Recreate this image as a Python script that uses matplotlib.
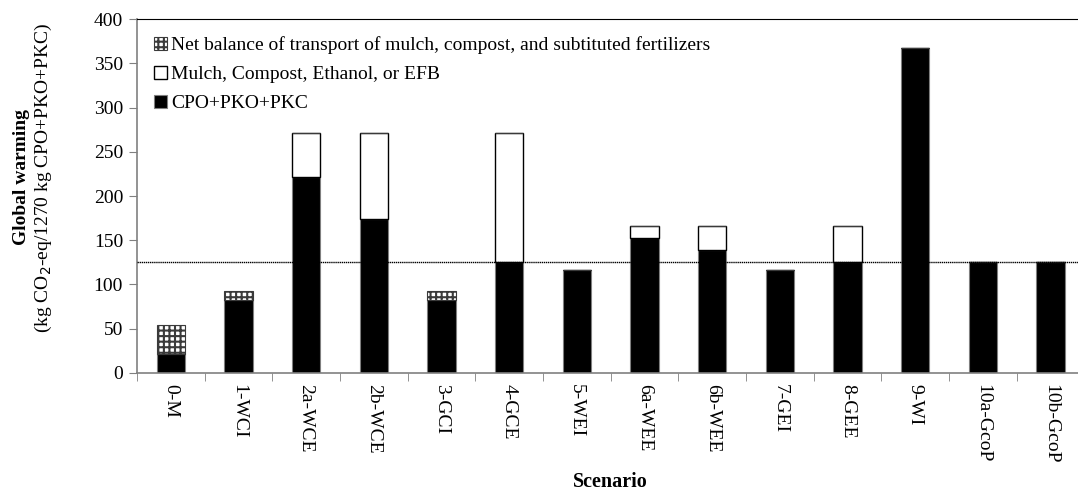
import numpy as np
import matplotlib
matplotlib.use("Agg")
import matplotlib.pyplot as plt

plt.rcParams['font.family'] = ['Liberation Serif', 'DejaVu Serif']
plt.rcParams['hatch.linewidth'] = 1.5
plt.rcParams['hatch.color'] = '#3a3a3a'

scenarios = ["0-M", "1-WCI", "2a-WCE", "2b-WCE", "3-GCI", "4-GCE", "5-WEI",
             "6a-WEE", "6b-WEE", "7-GEI", "8-GEE", "9-WI", "10a-GcoP", "10b-GcoP"]
cpo = [21, 82, 222, 174, 82, 125, 116, 153, 139, 116, 125, 367, 125, 125]
mulch = [0, 0, 49, 97, 0, 146, 0, 13, 27, 0, 41, 0, 0, 0]
transport = [33, 11, 0, 0, 11, 0, 0, 0, 0, 0, 0, 0, 0, 0]
reference_line = 125

fig = plt.figure(figsize=(10.78, 4.9), dpi=100)
ax = fig.add_axes([0.127, 0.239, 0.879, 0.722])

x = np.arange(len(scenarios))
w = 0.42
cpo = np.array(cpo)
mulch = np.array(mulch)
transport = np.array(transport)

b1 = ax.bar(x, cpo, width=w, color='black', edgecolor='#7f7f7f', linewidth=0.8,
            label='CPO+PKO+PKC', zorder=2)
b2 = ax.bar(x, mulch, width=w, bottom=cpo, color='white', edgecolor='black',
            linewidth=1.0, label='Mulch, Compost, Ethanol, or EFB', zorder=2)
b3 = ax.bar(x, transport, width=w, bottom=cpo + mulch, color='white',
            edgecolor='#3a3a3a', hatch='+++', linewidth=0.8,
            label='Net balance of transport of mulch, compost, and subtituted fertilizers',
            zorder=2)

ax.axhline(reference_line, color='black', linestyle=(0, (1, 0.5)), linewidth=1.0, zorder=3)

ax.set_xlim(-0.5, len(scenarios) - 0.5)
ax.set_ylim(0, 400)
ax.set_yticks(np.arange(0, 401, 50))
ax.set_xticks(np.arange(-0.5, len(scenarios), 1), minor=True)
ax.set_xticks(x)
ax.set_xticklabels(scenarios, rotation=270, fontsize=14)
ax.tick_params(axis='x', which='major', length=0, pad=8)
ax.tick_params(axis='x', which='minor', length=6, color='#808080', direction='out')
ax.tick_params(axis='y', labelsize=14, length=6, color='#808080', direction='out', pad=4)

for s in ['left', 'bottom']:
    ax.spines[s].set_color('#808080')
    ax.spines[s].set_linewidth(1.2)
ax.spines['top'].set_color('black')
ax.spines['right'].set_visible(False)

handles = [b3, b2, b1]
ax.legend(handles, [h.get_label() for h in handles], loc='upper left',
          bbox_to_anchor=(0.004, 0.99), frameon=False, fontsize=14,
          handlelength=0.65, handleheight=0.65, handletextpad=0.2,
          labelspacing=0.6, borderaxespad=0.3)

ax.set_xlabel('Scenario', fontsize=14.5, fontweight='bold', labelpad=6)
fig.text(0.020, 0.638, 'Global warming', rotation=90, fontsize=14,
         fontweight='bold', ha='center', va='center')
fig.text(0.040, 0.638, '(kg CO$_2$-eq/1270 kg CPO+PKO+PKC)', rotation=90,
         fontsize=14, ha='center', va='center')

fig.savefig('out.png', dpi=100)
